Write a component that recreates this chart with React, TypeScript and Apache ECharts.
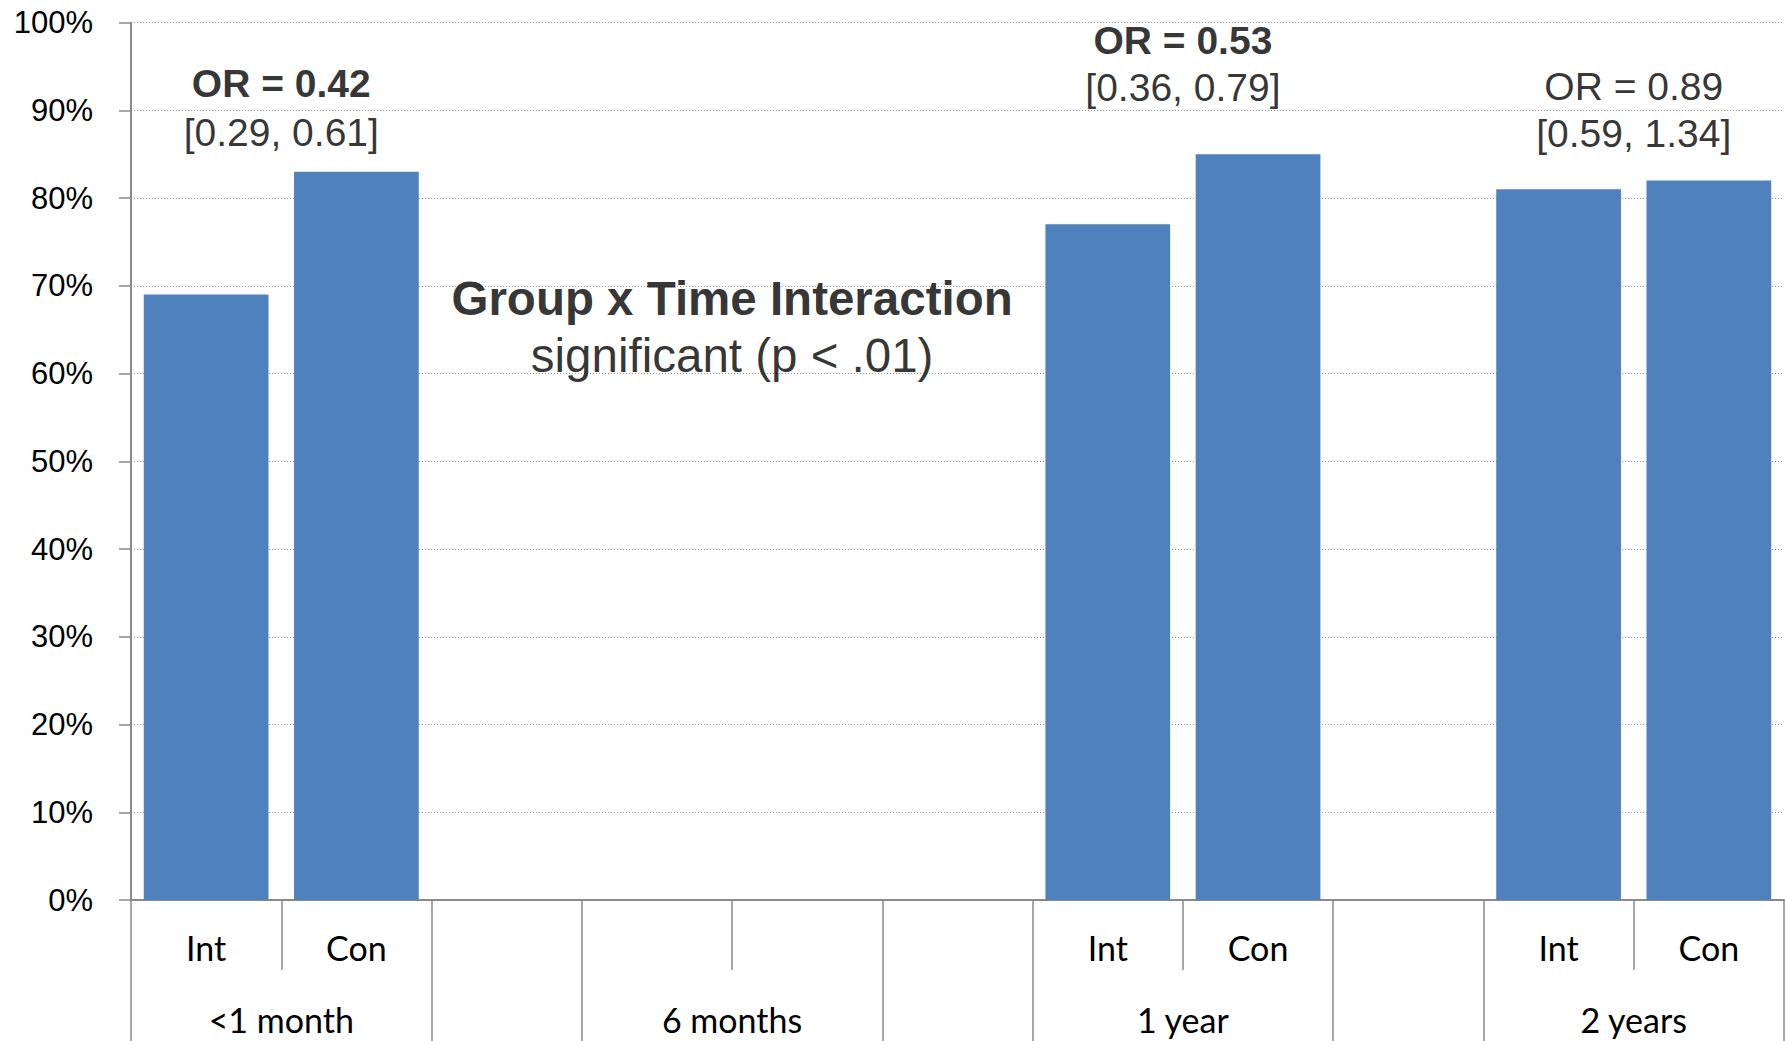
import React, { useEffect, useRef } from "react";
import * as echarts from "echarts";

// ---- data ----
const slotLabels = ["Int", "Con", "", "", "", "", "Int", "Con", "", "Int", "Con"];
const slotValues: (number | null)[] = [69, 83, null, null, null, null, 77, 85, null, 81, 82];
const groupLabels = ["<1 month", "6 months", "1 year", "2 years"];
const groupCenters = [1, 4, 7, 10];
const groupBoundaries = [0, 2, 3, 5, 6, 8, 9, 11];

const annotationTexts = [
  "OR = 0.42",
  "[0.29, 0.61]",
  "OR = 0.53",
  "[0.36, 0.79]",
  "OR = 0.89",
  "[0.59, 1.34]",
  "Group x Time Interaction",
  "significant (p < .01)",
];
const annotationX = [1, 1, 7, 7, 10, 10, 4, 4];
const annotationY = [93.1, 87.5, 97.9, 92.6, 92.7, 87.3, 68.6, 62.0];
const annotationBold = [true, false, true, false, false, false, true, false];
const annotationLarge = [false, false, false, false, false, false, true, true];

const AXIS_GREY = "#8a8a8a";
const BAR_BLUE = "#4F81BD";

export default function App() {
  const ref = useRef<HTMLDivElement>(null);

  useEffect(() => {
    if (!ref.current) return;
    const chart = echarts.init(ref.current, undefined, { renderer: "svg" });

    const groupMap: Record<number, string> = {};
    groupCenters.forEach((c, i) => (groupMap[c] = groupLabels[i]));

    const option: any = {
      animation: false,
      backgroundColor: "#ffffff",
      grid: { left: 131, right: 1, top: 22.5, bottom: 141, containLabel: false },
      xAxis: [
        {
          type: "category",
          data: slotLabels,
          position: "bottom",
          axisLine: { show: true, lineStyle: { color: AXIS_GREY, width: 2 } },
          axisTick: { show: true, interval: 0, length: 70, lineStyle: { color: AXIS_GREY, width: 1.5 } },
          axisLabel: {
            interval: 0,
            margin: 47,
            verticalAlign: "middle",
            color: "#000000",
            fontFamily: "Lato, 'Open Sans', sans-serif",
            fontSize: 34,
          },
          splitLine: { show: false },
        },
        {
          type: "value",
          min: 0,
          max: 11,
          position: "bottom",
          offset: 70,
          axisLine: { show: false },
          splitLine: { show: false },
          axisTick: {
            show: true,
            customValues: groupBoundaries,
            length: 90,
            lineStyle: { color: AXIS_GREY, width: 1.5 },
          },
          axisLabel: {
            show: true,
            customValues: groupCenters,
            margin: 49,
            verticalAlign: "middle",
            color: "#000000",
            fontFamily: "Lato, 'Open Sans', sans-serif",
            fontSize: 34,
            formatter: (v: number) => groupMap[Math.round(v)] ?? "",
          },
        },
      ],
      yAxis: {
        type: "value",
        min: 0,
        max: 100,
        interval: 10,
        axisLine: { show: true, lineStyle: { color: AXIS_GREY, width: 2 } },
        axisTick: { show: true, length: 12, lineStyle: { color: AXIS_GREY, width: 1.5 } },
        axisLabel: {
          formatter: "{value}%",
          margin: 38,
          color: "#000000",
          fontFamily: "'Liberation Sans', Arial, sans-serif",
          fontSize: 31,
        },
        splitLine: { show: true, lineStyle: { color: "#9a9a9a", width: 1, type: [1, 2] } },
      },
      series: [
        {
          type: "bar",
          xAxisIndex: 0,
          yAxisIndex: 0,
          data: slotValues,
          barCategoryGap: "17%",
          itemStyle: { color: BAR_BLUE },
          silent: true,
        },
        {
          type: "scatter",
          xAxisIndex: 1,
          yAxisIndex: 0,
          symbolSize: 1,
          itemStyle: { color: "rgba(255,255,255,0)" },
          silent: true,
          z: 5,
          data: annotationTexts.map((t, i) => ({
            value: [annotationX[i], annotationY[i]],
            name: t,
            label: {
              show: true,
              position: "inside",
              formatter: t,
              color: "#000000",
              textBorderWidth: 0,
              textBorderColor: "transparent",
              fontFamily: "'Liberation Sans', Arial, sans-serif",
              fontSize: annotationLarge[i] ? 47.5 : 39,
              fontWeight: annotationBold[i] ? "bold" : "normal",
            },
          })),
        },
      ],
    };

    chart.setOption(option);
    return () => chart.dispose();
  }, []);

  return (
    <div
      ref={ref}
      style={{ position: "absolute", left: 0, top: 0, width: 1785, height: 1041, background: "#fff" }}
    />
  );
}
